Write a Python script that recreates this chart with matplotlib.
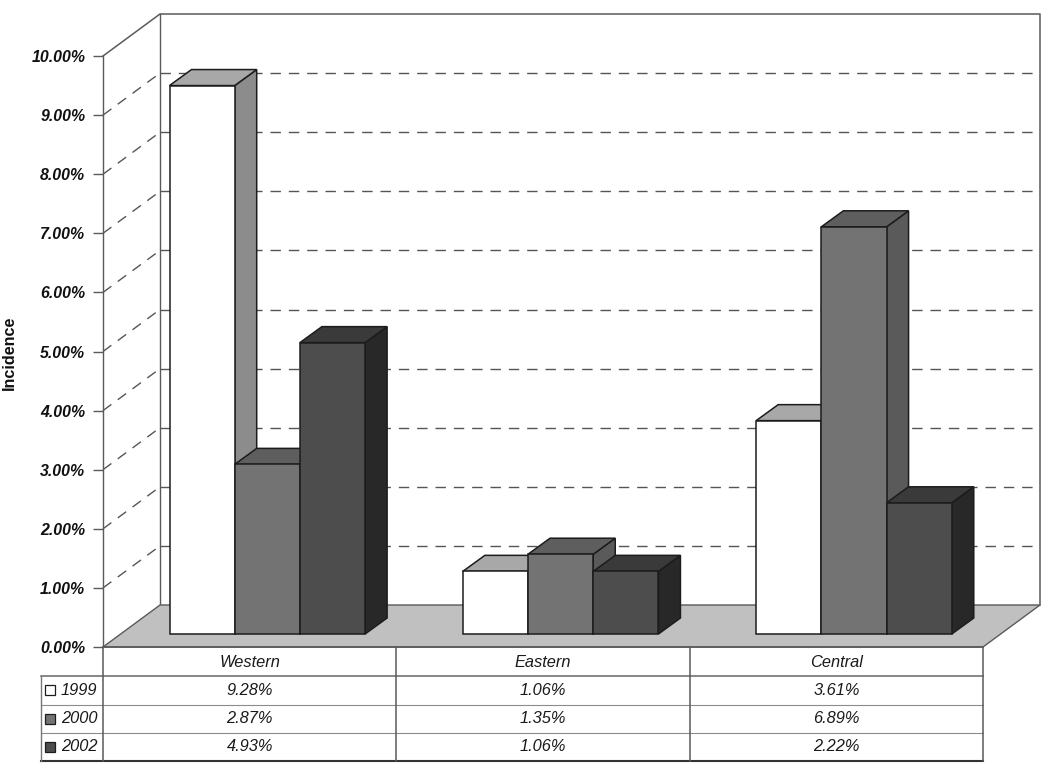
import matplotlib
matplotlib.use("Agg")
import matplotlib.pyplot as plt
from matplotlib.patches import Polygon, Rectangle

plt.rcParams['font.family'] = ['Liberation Sans', 'DejaVu Sans']

regions = ["Western", "Eastern", "Central"]
years = ["1999", "2000", "2002"]
inc_1999 = [9.28, 1.06, 3.61]
inc_2000 = [2.87, 1.35, 6.89]
inc_2002 = [4.93, 1.06, 2.22]
series = [inc_1999, inc_2000, inc_2002]
yticks = list(range(11))

front_col = ["#ffffff", "#737373", "#4d4d4d"]
top_col = ["#a8a8a8", "#5e5e5e", "#3a3a3a"]
side_col = ["#8c8c8c", "#5a5a5a", "#282828"]
wall_col = "#5a5a5a"
edge_col = "#1c1c1c"

# 3 categories across 880 px, 10 percent up 591 px
XU = 880 / 3.0
YU = 59.1
wall_dx = 57 / XU
wall_dy = 42 / YU
bar_dx = 22 / XU
bar_dy = 16 / YU
bar_w = 65.2 / XU
bar_off = 66.5 / XU
bar_base = 13 / YU
row_h = 28.2 / YU

fig = plt.figure(figsize=(10.5, 7.69), dpi=100)
ax = fig.add_axes([103 / 1050, (769 - 647) / 769, 880 / 1050, 591 / 769])
ax.set_xlim(0, 3)
ax.set_ylim(0, 10)
for s in ["top", "right", "bottom"]:
    ax.spines[s].set_visible(False)
ax.spines["left"].set_color(wall_col)
ax.spines["left"].set_linewidth(1.0)
ax.patch.set_visible(False)
ax.set_xticks([])
ax.set_yticks(yticks)
ax.set_yticklabels(["%.2f%%" % t for t in yticks], fontsize=11.4, fontweight="bold", fontstyle="italic", color="#111111")
ax.tick_params(axis="y", length=7.2, width=1.0, color=wall_col, pad=5.5)
ax.set_ylabel("Incidence", fontsize=11.6, fontweight="bold", color="#111111")
ax.yaxis.set_label_coords(-86 / 880, 0.497)

# walls and floor
dash = (0, (7.5, 5.7))
for t in yticks[1:-1]:
    ax.plot([wall_dx, 3 + wall_dx], [t + wall_dy, t + wall_dy], color="#555555", lw=1.0, ls=dash, clip_on=False, zorder=1)
    ax.plot([0, wall_dx], [t, t + wall_dy], color="#555555", lw=1.0, ls=dash, clip_on=False, zorder=1)
ax.plot([0, wall_dx, 3 + wall_dx, 3 + wall_dx], [10, 10 + wall_dy, 10 + wall_dy, wall_dy], color=wall_col, lw=1.1, clip_on=False, zorder=1)
ax.plot([wall_dx, wall_dx], [wall_dy, 10 + wall_dy], color=wall_col, lw=1.0, clip_on=False, zorder=1)
floor = [(0, 0), (3, 0), (3 + wall_dx, wall_dy), (wall_dx, wall_dy)]
ax.add_patch(Polygon(floor, closed=True, fc="#c0c0c0", ec=wall_col, lw=1.0, clip_on=False, zorder=2))

# bars, left to right so the next one covers the side of the last
z = 3
for g in range(len(regions)):
    for i in range(len(years)):
        x0 = g + bar_off + i * bar_w
        x1 = x0 + bar_w
        y0 = bar_base
        y1 = bar_base + series[i][g]
        side = [(x1, y0), (x1 + bar_dx, y0 + bar_dy), (x1 + bar_dx, y1 + bar_dy), (x1, y1)]
        top = [(x0, y1), (x1, y1), (x1 + bar_dx, y1 + bar_dy), (x0 + bar_dx, y1 + bar_dy)]
        ax.add_patch(Polygon(side, closed=True, fc=side_col[i], ec=edge_col, lw=1.1, clip_on=False, zorder=z))
        ax.add_patch(Polygon(top, closed=True, fc=top_col[i], ec=edge_col, lw=1.1, clip_on=False, zorder=z))
        ax.add_patch(Rectangle((x0, y0), bar_w, series[i][g], fc=front_col[i], ec=edge_col, lw=1.1, clip_on=False, zorder=z))
        z += 1

# data table under the plot
leg_x = -62 / XU
rows = [-row_h * k - 0.02 for k in range(5)]
ax.plot([0, 3], [0, 0], color=wall_col, lw=1.2, clip_on=False)
ax.plot([leg_x, 3], [rows[1], rows[1]], color="#666666", lw=1.1, clip_on=False)
ax.plot([leg_x, 3], [rows[2], rows[2]], color="#8c8c8c", lw=0.8, clip_on=False)
ax.plot([leg_x, 3], [rows[3], rows[3]], color="#8c8c8c", lw=0.8, clip_on=False)
ax.plot([leg_x, 3], [rows[4], rows[4]], color="#333333", lw=1.5, clip_on=False)
for x in [0, 1, 2, 3]:
    ax.plot([x, x], [0, rows[4]], color=wall_col, lw=1.1, clip_on=False)
ax.plot([leg_x, leg_x], [rows[1], rows[4]], color="#777777", lw=1.0, clip_on=False)

for g, name in enumerate(regions):
    ax.text(g + 0.5, (rows[0] + rows[1]) / 2, name, ha="center", va="center", fontsize=11.8, fontstyle="italic", color="#1a1a1a", clip_on=False)
    for i in range(len(years)):
        yc = (rows[i + 1] + rows[i + 2]) / 2
        ax.text(g + 0.5, yc, "%.2f%%" % series[i][g], ha="center", va="center", fontsize=11.8, fontstyle="italic", color="#1a1a1a", clip_on=False)
for i, yr in enumerate(years):
    yc = (rows[i + 1] + rows[i + 2]) / 2
    ax.plot([-53 / XU], [yc], marker="s", ms=6.6, mfc=front_col[i], mec=edge_col, mew=0.9, clip_on=False)
    ax.text(-42 / XU, yc, yr, ha="left", va="center", fontsize=11.8, fontstyle="italic", color="#1a1a1a", clip_on=False)

fig.savefig("out.png", dpi=100, facecolor="white")
